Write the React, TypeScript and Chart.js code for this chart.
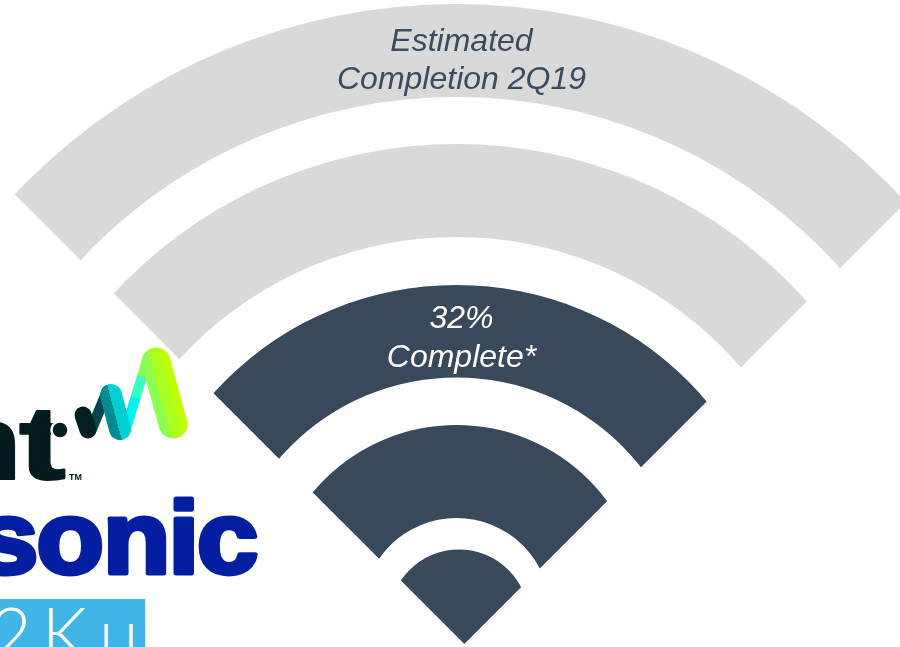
import React, { useEffect, useRef } from "react";
import { Chart, registerables } from "chart.js";

Chart.register(...registerables);

// Signal rings, outermost first, alternating with the empty gaps between them.
const ringStates = ["planned", "gap", "planned", "gap", "done", "gap", "done"];
const ringWeights = [93, 47, 93, 48, 92.5, 47.5, 93];
const innerSectorState = "done";
const estimateLines = ["Estimated", "Completion 2Q19"];
const progressLines = ["32%", "Complete*"];

const DARK = "#37495B";
const GREY = "#D9D9D9";
const stateColors: Record<string, string> = {
  planned: GREY,
  done: DARK,
  gap: "rgba(0,0,0,0)",
};

const APEX = { x: 464.3, y: 644 };

// Restricts the rings to the 90 degree fan that opens upwards from the apex.
const fanClip = {
  id: "fanClip",
  beforeDatasetsDraw(chart: Chart) {
    const { ctx } = chart;
    ctx.save();
    ctx.beginPath();
    ctx.moveTo(APEX.x, APEX.y);
    ctx.lineTo(APEX.x - 900, APEX.y - 900);
    ctx.lineTo(APEX.x + 900, APEX.y - 900);
    ctx.closePath();
    ctx.clip();
  },
  afterDatasetsDraw(chart: Chart) {
    chart.ctx.restore();
  },
};

const ringCaptions = {
  id: "ringCaptions",
  afterDraw(chart: Chart) {
    const { ctx } = chart;
    ctx.save();
    ctx.font = 'italic 32px "Liberation Sans", Arial, sans-serif';
    ctx.textAlign = "center";
    ctx.textBaseline = "alphabetic";
    ctx.fillStyle = "#3A4C5F";
    estimateLines.forEach((line, i) => ctx.fillText(line, 461.5, 51 + i * 37.5));
    ctx.fillStyle = "#FFFFFF";
    progressLines.forEach((line, i) => ctx.fillText(line, 461.5, 328 + i * 38.5));
    ctx.restore();
  },
};

// Shared doughnut setup: the padding places the centre, the radius is in pixels.
function makeFan(
  canvas: HTMLCanvasElement,
  datasets: object[],
  radius: number,
  holeRadius: number,
  padding: { left: number; top: number },
  extraPlugins: object[],
) {
  return new Chart(canvas, {
    type: "doughnut",
    data: { labels: ["Ring"], datasets: datasets as never },
    options: {
      animation: false,
      responsive: false,
      events: [],
      cutout: `${(holeRadius / radius) * 100}%`,
      radius,
      layout: { padding: { ...padding, right: 0, bottom: 0 } },
      plugins: { legend: { display: false }, tooltip: { enabled: false } },
    },
    plugins: [fanClip, ...extraPlugins] as never,
  });
}

function PartnerMarks() {
  return (
    <svg
      width={900}
      height={647}
      style={{ position: "absolute", left: 0, top: 0, pointerEvents: "none" }}
    >
      <defs>
        <linearGradient id="bandC" gradientUnits="userSpaceOnUse" x1="104.9" y1="414.8" x2="126.1" y2="409.2">
          <stop offset="0.45" stopColor="#008C90" />
          <stop offset="0.45" stopColor="#00CED1" />
        </linearGradient>
        <linearGradient id="bandD" gradientUnits="userSpaceOnUse" x1="125" y1="432" x2="150" y2="350">
          <stop offset="0.42" stopColor="#00F2F2" />
          <stop offset="0.42" stopColor="#38FFC2" />
          <stop offset="0.68" stopColor="#38FFC2" />
          <stop offset="0.68" stopColor="#8CFF50" />
        </linearGradient>
        <linearGradient id="bandE" gradientUnits="userSpaceOnUse" x1="150.5" y1="396.8" x2="178.5" y2="389.2">
          <stop offset="0.32" stopColor="#8CFF50" />
          <stop offset="0.32" stopColor="#A8FF20" />
          <stop offset="0.72" stopColor="#A8FF20" />
          <stop offset="0.72" stopColor="#BEFF00" />
        </linearGradient>
      </defs>

      <g
        fill="#021C1E"
        stroke="#021C1E"
        strokeWidth={2}
        strokeLinejoin="round"
        fontFamily='"Liberation Sans", Arial, sans-serif'
        fontWeight={700}
        fontSize={104}
      >
        <text x={-43} y={479}>
          n
        </text>
        <text transform="translate(19 479) scale(1.35 1)">t</text>
      </g>
      <circle cx={60} cy={430} r={8.5} fill="#021C1E" stroke="#FFFFFF" strokeWidth={2.5} />
      <text
        x={69}
        y={480}
        fontSize={9}
        fill="#021C1E"
        fontFamily='"Liberation Sans", Arial, sans-serif'
        fontWeight={700}
      >
        TM
      </text>

      <g fill="none" strokeLinecap="round">
        <line x1={92} y1={428} x2={107} y2={392} stroke="#00464C" strokeWidth={11} />
        <line x1={125} y1={432} x2={147} y2={360} stroke="url(#bandD)" strokeWidth={10} />
        <line x1={83} y1={415} x2={88} y2={430} stroke="#041F22" strokeWidth={17} />
        <line x1={111} y1={395} x2={120} y2={429} stroke="url(#bandC)" strokeWidth={22} />
        <line x1={156} y1={362} x2={173} y2={424} stroke="url(#bandE)" strokeWidth={29} />
      </g>

      <text
        transform="scale(1.08 1)"
        x="-21.3 33.8 95.4 156 182.4"
        y={573}
        fontSize={102}
        fill="#041EA2"
        stroke="#041EA2"
        strokeWidth={5}
        strokeLinejoin="round"
        fontFamily='"Liberation Sans", Arial, sans-serif'
        fontWeight={700}
      >
        sonic
      </text>

      <rect x={0} y={599} width={145} height={48} fill="#41B6E6" />
      <text x="-10 41.5 99" y={660} fontSize={72} fill="#FFFFFF" fontFamily="Lato, sans-serif" fontWeight={300}>
        2Ku
      </text>
    </svg>
  );
}

export default function App() {
  const ringsRef = useRef<HTMLCanvasElement | null>(null);
  const sectorRef = useRef<HTMLCanvasElement | null>(null);

  useEffect(() => {
    document.body.style.margin = "0";
    const rings = makeFan(
      ringsRef.current!,
      ringStates.map((state, i) => ({
        label: state,
        data: [1],
        weight: ringWeights[i],
        backgroundColor: stateColors[state],
        borderWidth: 0,
        clip: false,
      })),
      608,
      94,
      { left: 13, top: 577 },
      [ringCaptions],
    );
    // The smallest sector has its own, slightly lower centre.
    const sector = makeFan(
      sectorRef.current!,
      [
        {
          label: innerSectorState,
          data: [1],
          backgroundColor: stateColors[innerSectorState],
          borderWidth: 0,
          clip: false,
        },
      ],
      70,
      0,
      { left: 18, top: 592 },
      [],
    );
    return () => {
      rings.destroy();
      sector.destroy();
    };
  }, []);

  return (
    <div style={{ position: "relative", width: 900, height: 647, overflow: "hidden", background: "#fff" }}>
      <canvas ref={ringsRef} width={900} height={647} style={{ display: "block" }} />
      <canvas ref={sectorRef} width={900} height={647} style={{ position: "absolute", left: 0, top: 0 }} />
      <PartnerMarks />
    </div>
  );
}
